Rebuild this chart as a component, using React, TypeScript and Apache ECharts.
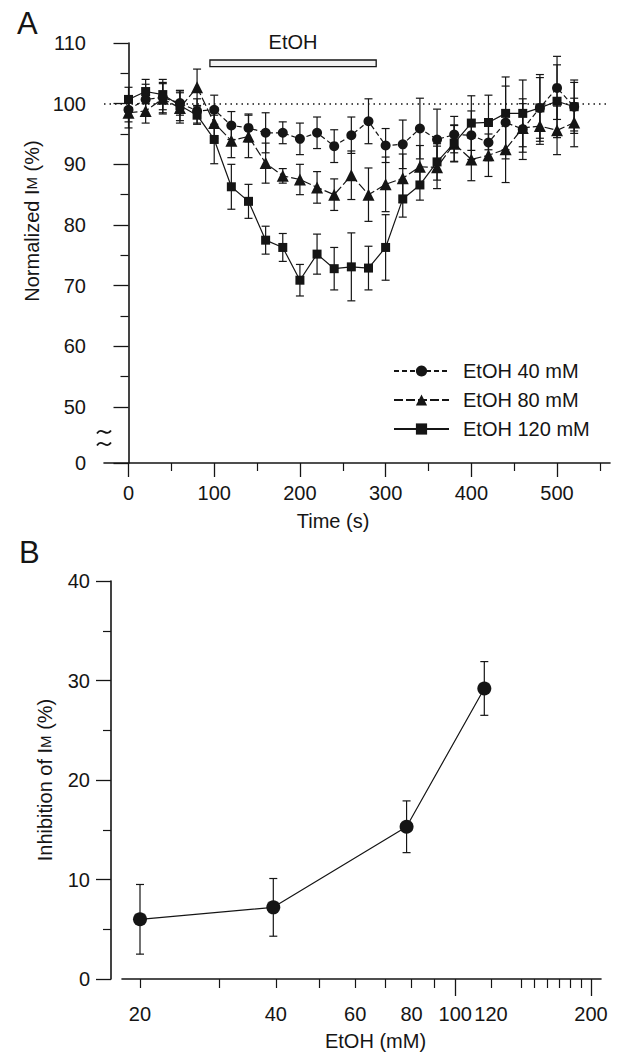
import React, { useEffect, useRef } from "react";
import * as echarts from "echarts";

// ---------------- Panel A data ----------------
const timePoints = [0, 20, 40, 60, 80, 100, 120, 140, 160, 180, 200, 220, 240, 260, 280, 300, 320, 340, 360, 380, 400, 420, 440, 460, 480, 500, 520];
const mean40 = [99.0, 100.7, 101.0, 100.1, 98.8, 99.0, 96.4, 96.0, 95.2, 95.2, 94.2, 95.2, 93.0, 94.8, 97.1, 93.1, 93.3, 95.9, 94.1, 94.9, 94.8, 93.6, 96.9, 95.8, 99.3, 102.6, 99.5];
const err40 = [2.0, 2.5, 2.5, 2.0, 2.0, 2.4, 2.3, 2.3, 3.3, 1.8, 2.6, 2.6, 2.7, 3.0, 3.7, 2.8, 4.0, 5.0, 5.0, 3.0, 4.0, 3.0, 6.0, 5.0, 5.5, 5.2, 4.4];
const mean80 = [98.5, 98.8, 100.8, 99.3, 102.7, 96.8, 93.9, 94.6, 90.2, 88.1, 87.5, 86.2, 85.0, 88.2, 85.0, 86.7, 87.7, 89.6, 89.5, 93.4, 90.8, 91.5, 92.5, 96.0, 96.3, 95.6, 96.9];
const err80 = [2.5, 2.0, 2.5, 2.5, 3.0, 2.5, 2.8, 3.5, 3.3, 1.2, 2.5, 2.6, 2.6, 4.0, 4.4, 4.5, 4.0, 3.5, 3.5, 3.0, 3.5, 3.5, 5.5, 4.0, 3.0, 4.0, 4.0];
const mean120 = [100.7, 102.0, 101.5, 99.7, 98.1, 94.1, 86.3, 83.9, 77.5, 76.3, 70.9, 75.2, 72.8, 73.1, 72.9, 76.3, 84.3, 86.6, 90.4, 93.5, 96.8, 96.9, 98.4, 98.4, 99.3, 100.4, 99.5];
const err120 = [2.0, 2.0, 2.5, 2.5, 1.5, 4.0, 3.7, 2.8, 2.3, 2.3, 2.6, 3.3, 3.5, 5.6, 3.6, 5.4, 3.0, 2.5, 3.0, 3.0, 4.5, 4.5, 6.0, 5.5, 5.0, 6.0, 4.0];
const seriesNamesA = ["EtOH 40 mM", "EtOH 80 mM", "EtOH 120 mM"];

const xTicksA = [0, 100, 200, 300, 400, 500];
const xMinorTicksA = [50, 150, 250, 350, 450, 550];
const yTicksA = [50, 60, 70, 80, 90, 100, 110];
const yMinorTicksA = [55, 65, 75, 85, 95, 105];
const yBreakZeroA = 40.77; // position of the "0" label on the broken axis
const etohWindow = [95, 289];
const baselineA = 100;

// ---------------- Panel B data ----------------
const concB = [20, 39.5, 78, 116];
const inhibB = [6.0, 7.2, 15.3, 29.2];
const errB = [3.5, 2.9, 2.6, 2.7];
const xLabelsB = [20, 40, 60, 80, 100, 120, 200];
const xMajorTicksB = [100, 200];
const xMinorTicksB = [20, 30, 40, 50, 60, 70, 80, 90, 120, 140, 150, 160, 170, 180, 190];

const FONT = "'Liberation Sans', Arial, Helvetica, sans-serif";
const INK = "#151515";

function errorSeries(xs: number[], ms: number[], es: number[], xi: number, yi: number, cap: number): any {
  return {
    type: "custom",
    xAxisIndex: xi,
    yAxisIndex: yi,
    silent: true,
    z: 1,
    clip: false,
    data: xs.map((x, i) => [x, ms[i] - es[i], ms[i] + es[i]]),
    encode: { x: 0, y: [1, 2] },
    renderItem: (_p: any, api: any) => {
      const x = api.value(0);
      const lo = api.coord([x, api.value(1)]);
      const hi = api.coord([x, api.value(2)]);
      const h = cap / 2;
      const st = { stroke: INK, lineWidth: 1.2 };
      return {
        type: "group",
        children: [
          { type: "line", shape: { x1: lo[0], y1: lo[1], x2: hi[0], y2: hi[1] }, style: st },
          { type: "line", shape: { x1: lo[0] - h, y1: lo[1], x2: lo[0] + h, y2: lo[1] }, style: st },
          { type: "line", shape: { x1: hi[0] - h, y1: hi[1], x2: hi[0] + h, y2: hi[1] }, style: st },
        ],
      };
    },
  };
}

const lg = (v: number) => Math.log10(v);

export default function App() {
  const ref = useRef<HTMLDivElement>(null);
  useEffect(() => {
    const chart = echarts.init(ref.current!, null, { renderer: "svg" });
    const axisLabelBase = { color: INK, fontSize: 20, fontFamily: FONT };
    const option: any = {
      animation: false,
      backgroundColor: "#fff",
      textStyle: { fontFamily: FONT, color: INK },
      grid: [
        { left: 104, top: 43, right: 28, height: 420 },
        { left: 122, top: 581, right: 37, height: 398 },
      ],
      legend: {
        orient: "vertical",
        left: 388,
        top: 356,
        itemWidth: 55,
        itemHeight: 14,
        itemGap: 9,
        data: seriesNamesA,
        textStyle: { fontSize: 20, lineHeight: 20, color: INK, fontFamily: FONT, padding: [0, 0, 0, 9] },
      },
      graphic: [
        { type: "text", left: 17, top: 8, style: { text: "A", fontSize: 31, fontFamily: FONT, fill: INK } },
        { type: "text", left: 19, top: 537, style: { text: "B", fontSize: 31, fontFamily: FONT, fill: INK } },
      ],
      xAxis: [
        {
          gridIndex: 0, type: "value", min: -28.59, max: 561.8,
          axisLine: { lineStyle: { color: INK, width: 1.6 } },
          axisTick: { customValues: xTicksA, length: 14, lineStyle: { color: INK, width: 1.3 } },
          axisLabel: { ...axisLabelBase, customValues: xTicksA, margin: 20 },
          splitLine: { show: false },
          name: "Time (s)", nameLocation: "middle", nameGap: 48,
          nameTextStyle: { fontSize: 20, color: INK, fontFamily: FONT, padding: [0, 48, 0, 0] },
        },
        {
          gridIndex: 0, type: "value", min: -28.59, max: 561.8, position: "bottom",
          axisLine: { show: false },
          axisTick: { customValues: xMinorTicksA, length: 8, lineStyle: { color: INK, width: 1.2 } },
          axisLabel: { show: false },
          splitLine: { show: false },
        },
        {
          gridIndex: 1, type: "value", min: 1.26112, max: 2.3232,
          axisLine: { lineStyle: { color: INK, width: 1.6 } },
          axisTick: { customValues: xMajorTicksB.map(lg), length: 17, lineStyle: { color: INK, width: 1.3 } },
          axisLabel: { ...axisLabelBase, customValues: xLabelsB.map(lg), margin: 25, formatter: (v: number) => String(Math.round(Math.pow(10, v))) },
          splitLine: { show: false },
          name: "EtOH (mM)", nameLocation: "middle", nameGap: 52,
          nameTextStyle: { fontSize: 20, color: INK, fontFamily: FONT, padding: [0, 0, 0, 28] },
        },
        {
          gridIndex: 1, type: "value", min: 1.26112, max: 2.3232, position: "bottom",
          axisLine: { show: false },
          axisTick: { customValues: xMinorTicksB.map(lg), length: 9, lineStyle: { color: INK, width: 1.2 } },
          axisLabel: { show: false },
          splitLine: { show: false },
        },
      ],
      yAxis: [
        {
          gridIndex: 0, type: "value", min: yBreakZeroA, max: 110,
          axisLine: { show: true, lineStyle: { color: INK, width: 1.6 } },
          axisTick: { show: true, customValues: [yBreakZeroA, ...yTicksA], length: 15, lineStyle: { color: INK, width: 1.3 } },
          axisLabel: { ...axisLabelBase, customValues: [yBreakZeroA, ...yTicksA], margin: 18, formatter: (v: number) => (v < 45 ? "0" : String(Math.round(v))) },
          splitLine: { show: false },
          name: "Normalized I{m|M} (%)", nameLocation: "middle", nameGap: 50,
          nameTextStyle: {
            fontSize: 20, color: INK, fontFamily: FONT, padding: [0, 0, 0, 64],
            rich: { m: { fontSize: 15, color: INK, fontFamily: FONT } },
          },
        },
        {
          gridIndex: 0, type: "value", min: yBreakZeroA, max: 110, position: "left",
          axisLine: { show: false },
          axisTick: { show: true, customValues: yMinorTicksA, length: 8, lineStyle: { color: INK, width: 1.2 } },
          axisLabel: { show: false },
          splitLine: { show: false },
        },
        {
          gridIndex: 1, type: "value", min: 0, max: 40, interval: 10, offset: 11,
          axisLine: { show: true, lineStyle: { color: INK, width: 1.6 } },
          axisTick: { show: true, length: 15, lineStyle: { color: INK, width: 1.3 } },
          minorTick: { show: true, splitNumber: 2, length: 8, lineStyle: { color: INK, width: 1.2 } },
          axisLabel: { ...axisLabelBase, margin: 21 },
          splitLine: { show: false },
          name: "Inhibition of I{m|M} (%)", nameLocation: "middle", nameGap: 56,
          nameTextStyle: {
            fontSize: 20, color: INK, fontFamily: FONT,
            rich: { m: { fontSize: 15, color: INK, fontFamily: FONT } },
          },
        },
      ],
      series: [
        errorSeries(timePoints, mean40, err40, 0, 0, 8),
        errorSeries(timePoints, mean80, err80, 0, 0, 8),
        errorSeries(timePoints, mean120, err120, 0, 0, 8),
        {
          name: seriesNamesA[0], type: "line", xAxisIndex: 0, yAxisIndex: 0, z: 3,
          data: timePoints.map((t, i) => [t, mean40[i]]),
          symbol: "circle", symbolSize: 10,
          itemStyle: { color: INK },
          lineStyle: { color: INK, width: 1.2, type: [5, 3] },
          markLine: {
            silent: true, symbol: "none", label: { show: false },
            lineStyle: { color: INK, type: [1.5, 4], width: 1.5 },
            data: [{ yAxis: baselineA }],
          },
        },
        {
          name: seriesNamesA[1], type: "line", xAxisIndex: 0, yAxisIndex: 0, z: 3,
          data: timePoints.map((t, i) => [t, mean80[i]]),
          symbol: "triangle", symbolSize: 12,
          itemStyle: { color: INK },
          lineStyle: { color: INK, width: 1.2, type: [9, 3] },
        },
        {
          name: seriesNamesA[2], type: "line", xAxisIndex: 0, yAxisIndex: 0, z: 3,
          data: timePoints.map((t, i) => [t, mean120[i]]),
          symbol: "rect", symbolSize: 9,
          itemStyle: { color: INK },
          lineStyle: { color: INK, width: 1.2 },
        },
        {
          type: "custom", xAxisIndex: 0, yAxisIndex: 0, silent: true, clip: false, z: 4,
          data: [[etohWindow[0], etohWindow[1]]],
          renderItem: (_p: any, api: any) => {
            const a = api.coord([api.value(0), 107.2]);
            const b = api.coord([api.value(1), 106.1]);
            const t = api.coord([(api.value(0) + api.value(1)) / 2, 110.2]);
            return {
              type: "group",
              children: [
                { type: "rect", shape: { x: a[0], y: a[1], width: b[0] - a[0], height: b[1] - a[1] }, style: { fill: "#f2f2f2", stroke: INK, lineWidth: 1.3 } },
                { type: "text", x: t[0], y: t[1], style: { text: "EtOH", fontSize: 20, fontFamily: FONT, fill: INK, align: "center", verticalAlign: "middle" } },
              ],
            };
          },
        },
        {
          type: "custom", xAxisIndex: 0, yAxisIndex: 0, silent: true, clip: false, z: 5,
          data: [[-28.59, 45.9, 43.9]],
          renderItem: (_p: any, api: any) => {
            const p1 = api.coord([api.value(0), api.value(1)]);
            const p2 = api.coord([api.value(0), api.value(2)]);
            const cx = p1[0];
            const tilde = (cy: number) => ({
              type: "bezierCurve",
              shape: { x1: cx - 7, y1: cy + 1.5, cpx1: cx - 2, cpy1: cy - 6, cpx2: cx + 2, cpy2: cy + 6, x2: cx + 7, y2: cy - 1.5 },
              style: { stroke: INK, lineWidth: 1.8, fill: null },
            });
            return {
              type: "group",
              children: [
                { type: "rect", shape: { x: cx - 4, y: p1[1] - 2, width: 8, height: p2[1] - p1[1] + 4 }, style: { fill: "#fff" } },
                tilde(p1[1]),
                tilde(p2[1]),
              ],
            };
          },
        },
        errorSeries(concB.map(lg), inhibB, errB, 2, 2, 8),
        {
          type: "line", xAxisIndex: 2, yAxisIndex: 2, z: 3,
          data: concB.map((c, i) => [lg(c), inhibB[i]]),
          symbol: "circle", symbolSize: 14,
          itemStyle: { color: INK },
          lineStyle: { color: INK, width: 1.2 },
        },
      ],
    };
    chart.setOption(option);
    return () => chart.dispose();
  }, []);
  return <div ref={ref} style={{ position: "absolute", left: 0, top: 0, width: 638, height: 1061, background: "#fff" }} />;
}
